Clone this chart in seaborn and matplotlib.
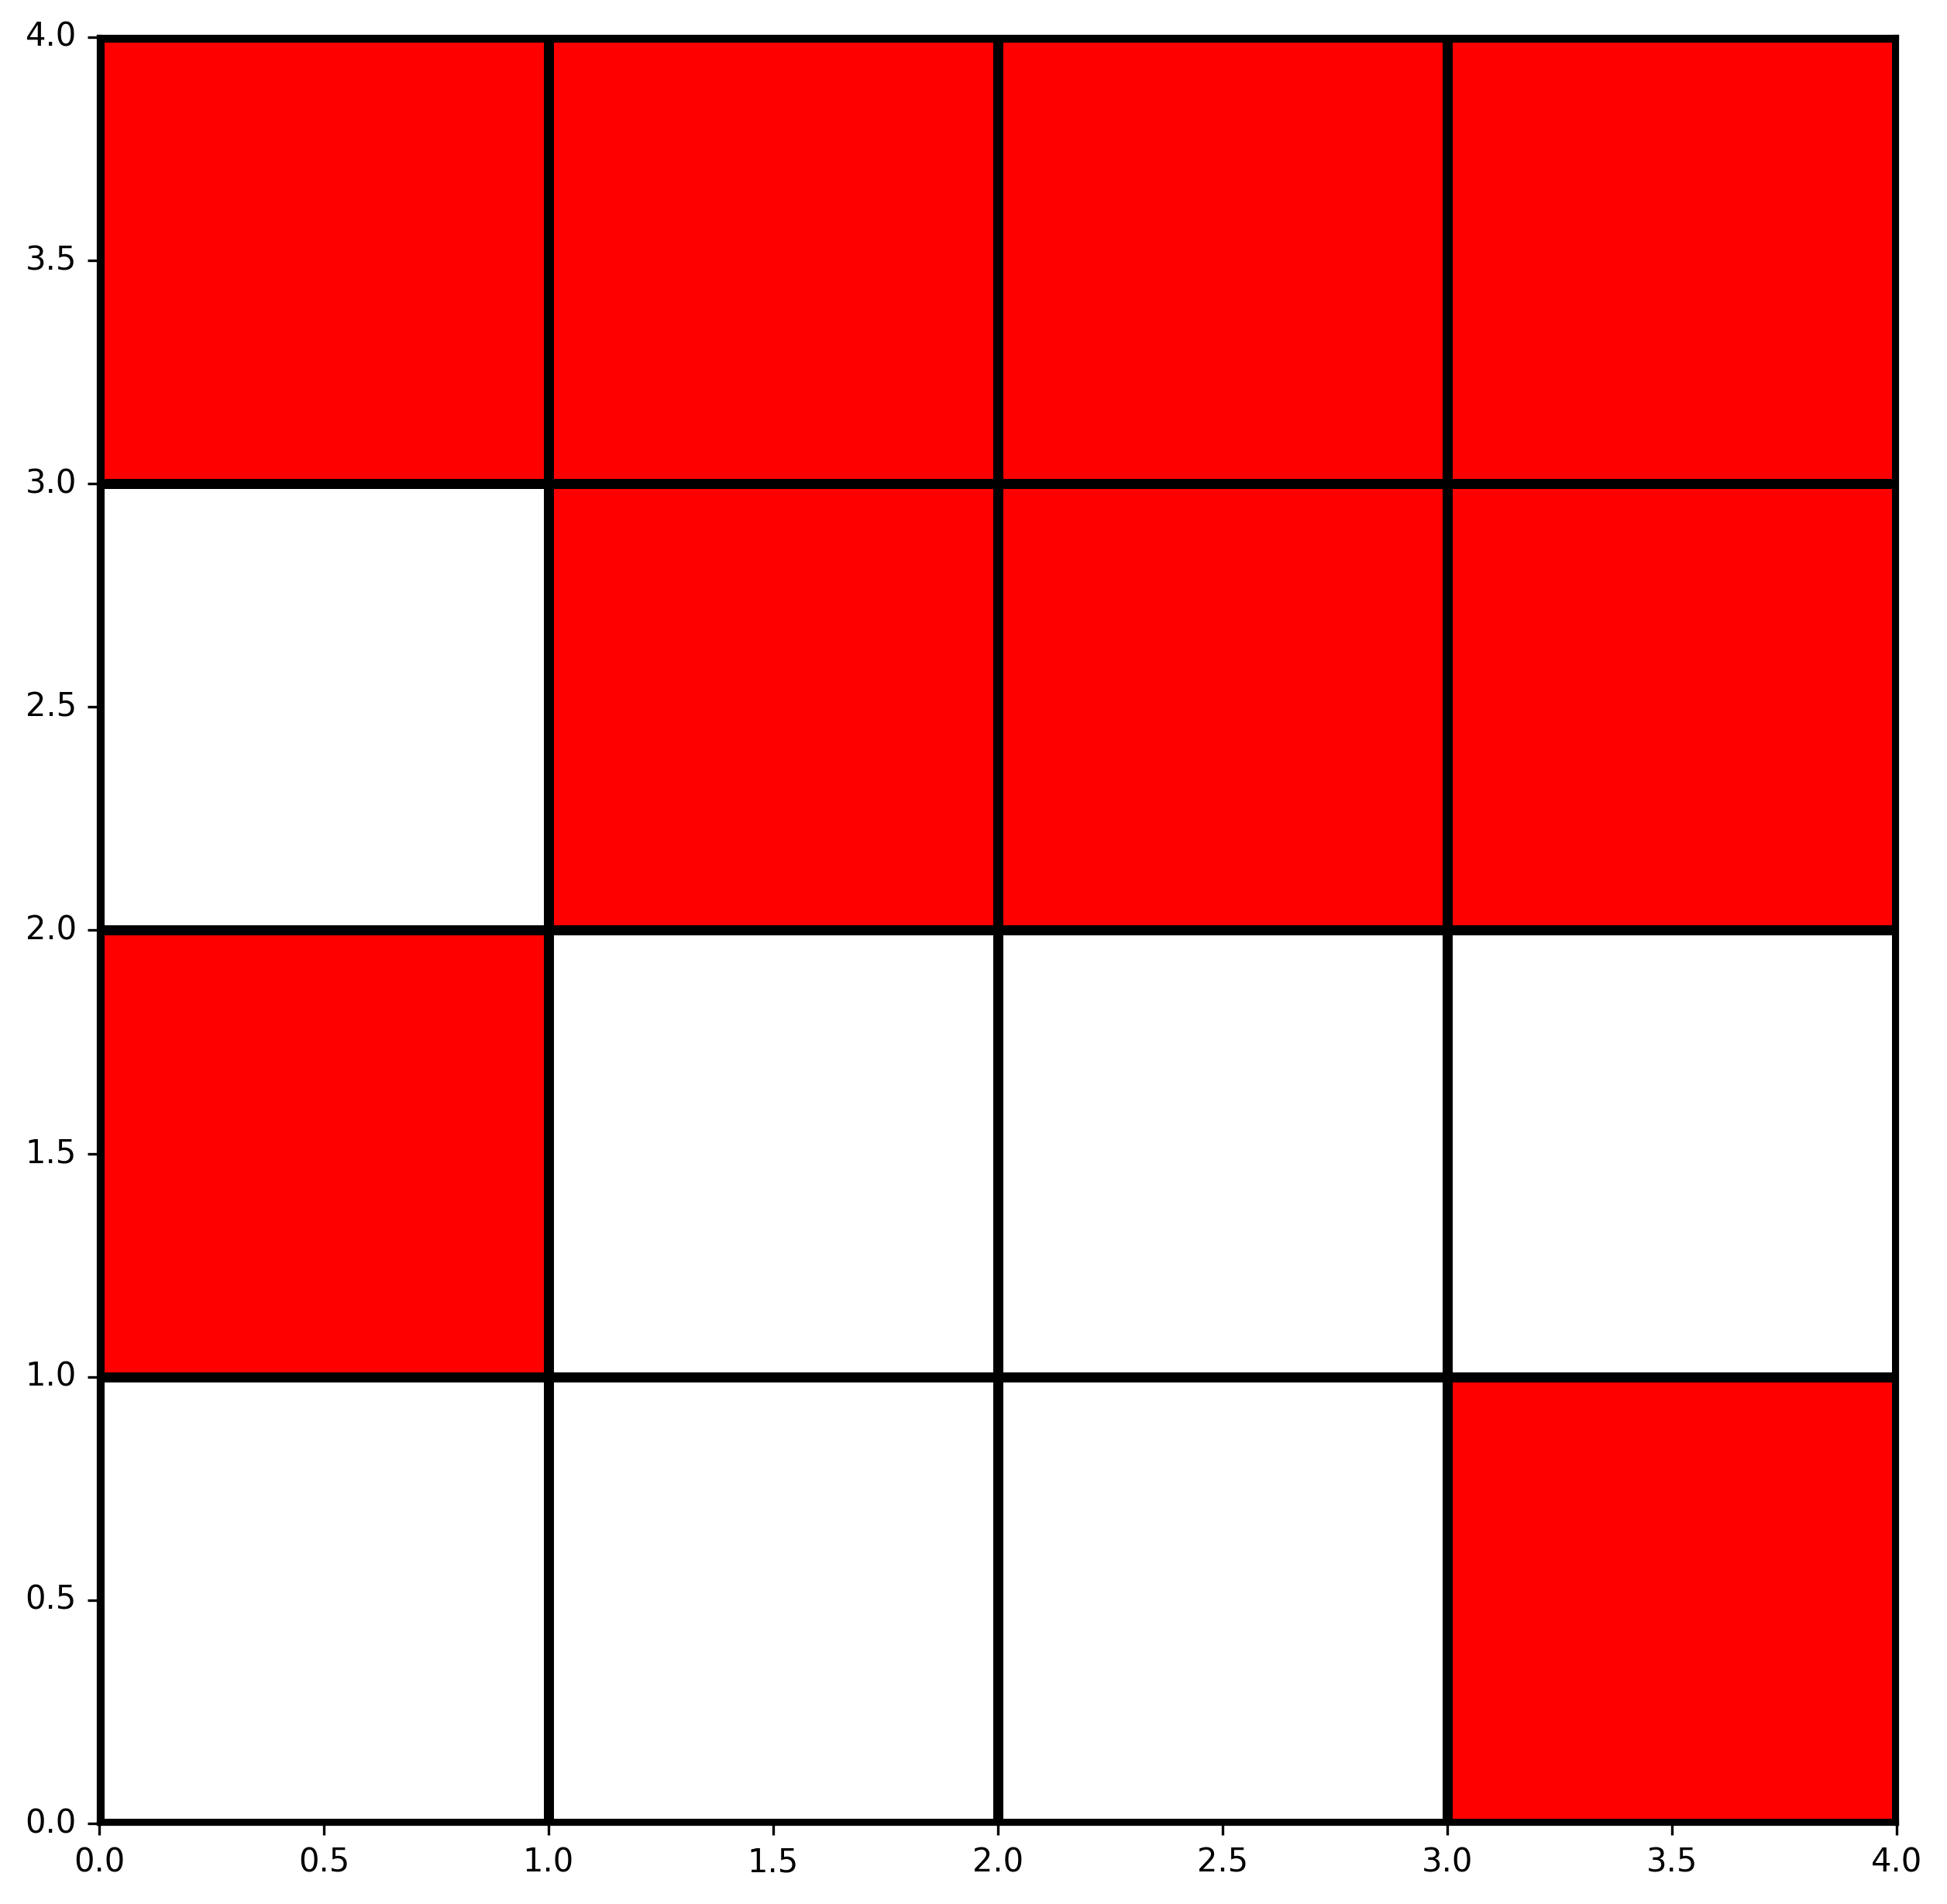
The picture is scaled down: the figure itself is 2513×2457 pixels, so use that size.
"""Red / white occupancy grid drawn as a seaborn heatmap."""

import numpy as np
import matplotlib
matplotlib.use("Agg")
import matplotlib.pyplot as plt
import seaborn as sns
from matplotlib.colors import ListedColormap

# Cell states, listed from the bottom row (y 0-1) to the top row (y 3-4)
row_0 = [0, 0, 0, 1]
row_1 = [1, 0, 0, 0]
row_2 = [0, 1, 1, 1]
row_3 = [1, 1, 1, 1]

tick_values = [0.0, 0.5, 1.0, 1.5, 2.0, 2.5, 3.0, 3.5, 4.0]
tick_labels = ["0.0", "0.5", "1.0", "1.5", "2.0", "2.5", "3.0", "3.5", "4.0"]

grid = np.array([row_0, row_1, row_2, row_3])

fig, ax = plt.subplots(figsize=(2513 / 300, 2457 / 300), dpi=300)
fig.subplots_adjust(left=0.051, right=0.974, bottom=0.0423, top=0.9805)

sns.heatmap(
    grid,
    cmap=ListedColormap(["white", "red"]),
    vmin=0, vmax=1,
    linewidths=3,
    linecolor="black",
    cbar=False,
    ax=ax,
)

# heatmap flips the y axis, put row 0 back at the bottom
ax.set_xlim(0, 4)
ax.set_ylim(0, 4)
ax.set_xticks(tick_values)
ax.set_xticklabels(tick_labels, rotation=0)
ax.set_yticks(tick_values)
ax.set_yticklabels(tick_labels, rotation=0)

# bring the frame back (heatmap removes it)
for spine in ax.spines.values():
    spine.set_visible(True)
    spine.set_color("black")
    spine.set_linewidth(1.5)

fig.savefig("out.png", dpi=300)
